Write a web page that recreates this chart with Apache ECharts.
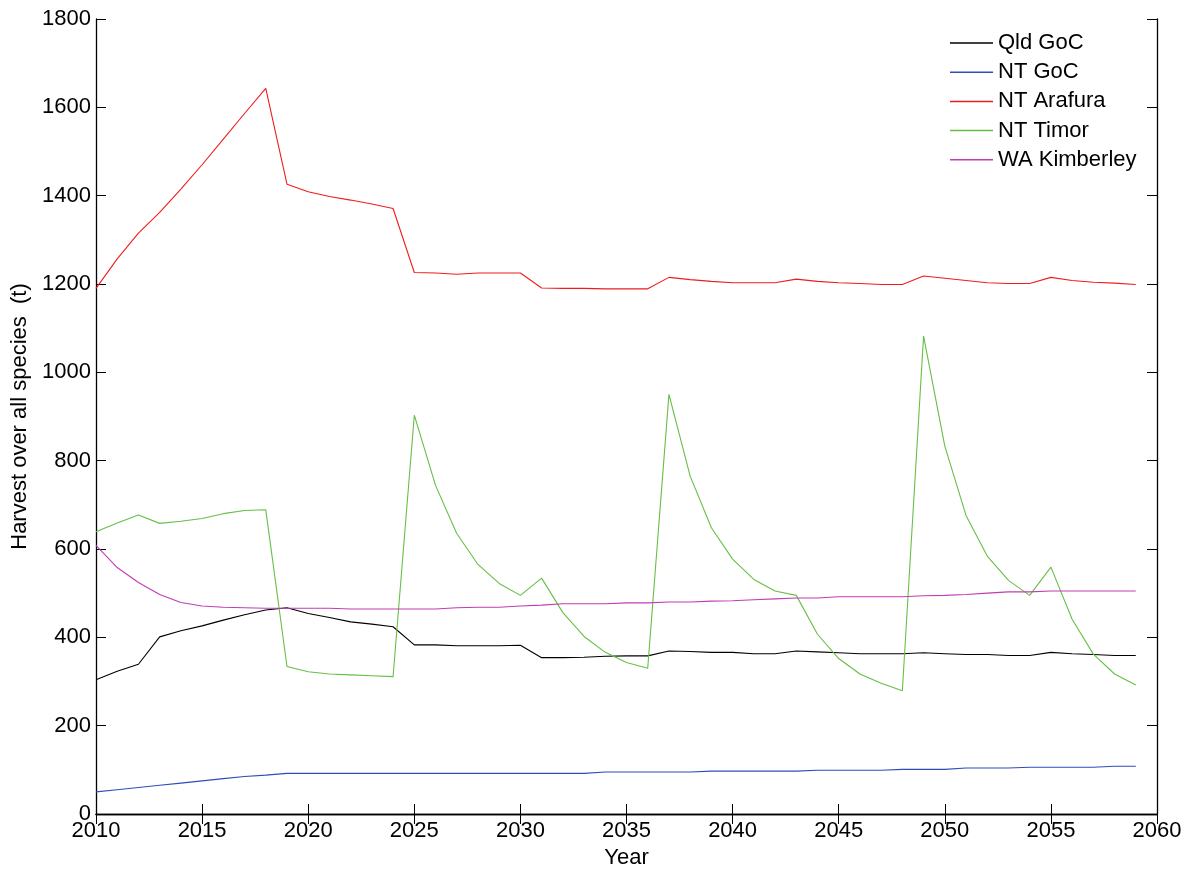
<!DOCTYPE html>
<html>
<head>
<meta charset="utf-8">
<script src="https://cdn.jsdelivr.net/npm/echarts@6/dist/echarts.min.js"></script>
<style>
	html,body{margin:0;padding:0;background:#fff;}
	#chart{width:1194px;height:870px;}
</style>
</head>
<body>
<div id="chart"></div>
<script>
	// years 2010..2059
	var years = [];
	for (var y = 2010; y <= 2059; y++) years.push(y);

	var qldGoC = [304,323,339,401,415,426,439,451,462,467,
		454,445,435,430,424,383,383,381,381,381,
		382,354,354,355,357,358,358,369,368,366,
		366,363,363,369,367,365,363,363,363,365,
		363,361,361,359,359,366,363,361,359,359];
	var ntGoC = [50,55,60,65,70,75,80,85,88,92,
		92,92,92,92,92,92,92,92,92,92,
		92,92,92,92,95,95,95,95,95,97,
		97,97,97,97,99,99,99,99,101,101,
		101,104,104,104,106,106,106,106,108,108];
	var ntArafura = [1190,1257,1315,1362,1415,1470,1528,1586,1643,1426,
		1409,1398,1390,1381,1371,1226,1225,1222,1225,1225,
		1225,1191,1190,1190,1189,1189,1189,1215,1210,1206,
		1203,1203,1203,1211,1206,1203,1201,1199,1199,1218,
		1213,1208,1203,1201,1201,1215,1208,1204,1202,1199];
	var ntTimor = [639,659,677,658,663,669,680,687,689,334,
		322,317,315,313,311,903,744,635,565,522,
		495,534,456,402,366,343,330,950,765,648,
		577,531,505,495,407,352,317,296,279,1082,
		833,676,584,529,495,559,441,362,317,292];
	var waKimberley = [608,558,524,497,479,471,468,467,466,466,
		466,466,464,464,464,464,464,467,468,468,
		471,473,476,476,476,478,478,480,480,482,
		483,485,487,489,489,492,492,492,492,494,
		495,497,500,503,503,505,505,505,505,505];

	var seriesNames = ['Qld GoC','NT GoC','NT Arafura','NT Timor','WA Kimberley'];
	var seriesData = [qldGoC, ntGoC, ntArafura, ntTimor, waKimberley];
	var seriesColors = ['#000000','#2f4db8','#f01c1c','#66bf45','#c23cb4'];

	function pairs(arr){
		return arr.map(function(v,i){ return [years[i], v]; });
	}
	function plain(v){ return String(v); }

	var font = 'Liberation Sans, Arial, sans-serif';

	var myChart = echarts.init(document.getElementById('chart'));
	var option = {
		animation:false,
		backgroundColor:'#fff',
		grid:{left:96,right:37,top:19,bottom:56,containLabel:false,outerBoundsMode:'none'},
		legend:{
			orient:'vertical',
			left:950,
			top:32,
			padding:0,
			icon:'rect',
			itemWidth:43,
			itemHeight:1.5,
			itemGap:7.2,
			textStyle:{fontFamily:font,fontSize:22,color:'#000',lineHeight:22},
			data:seriesNames
		},
		xAxis:[
			{
				type:'value',min:2010,max:2060,interval:5,
				name:'Year',nameLocation:'middle',nameGap:33,
				nameTextStyle:{fontFamily:font,fontSize:22,color:'#000'},
				axisLine:{lineStyle:{color:'#000',width:1.3}},
				axisTick:{inside:true,length:10,lineStyle:{color:'#000'}},
				axisLabel:{fontFamily:font,fontSize:22,color:'#000',margin:6,formatter:plain},
				splitLine:{show:false}
			},
			{
				type:'value',min:2010,max:2060,interval:5,position:'top',
				axisLine:{lineStyle:{color:'#000',width:1.3}},
				axisTick:{inside:true,length:10,lineStyle:{color:'#000'}},
				axisLabel:{show:false},
				splitLine:{show:false}
			}
		],
		yAxis:[
			{
				type:'value',min:0,max:1800,interval:200,
				name:'Harvest over all species  (t)',nameLocation:'middle',nameGap:65,
				nameTextStyle:{fontFamily:font,fontSize:22,color:'#000'},
				axisLine:{show:true,lineStyle:{color:'#000',width:1.3}},
				axisTick:{show:true,inside:true,length:10,lineStyle:{color:'#000'}},
				axisLabel:{fontFamily:font,fontSize:22,color:'#000',margin:5,formatter:plain},
				splitLine:{show:false}
			},
			{
				type:'value',min:0,max:1800,interval:200,position:'right',
				axisLine:{show:true,lineStyle:{color:'#000',width:1.3}},
				axisTick:{show:true,inside:true,length:10,lineStyle:{color:'#000'}},
				axisLabel:{show:false},
				splitLine:{show:false}
			}
		],
		series:seriesNames.map(function(name,i){
			return {
				name:name,
				type:'line',
				symbol:'none',
				color:seriesColors[i],
				lineStyle:{color:seriesColors[i],width:1.1},
				data:pairs(seriesData[i])
			};
		})
	};
	myChart.setOption(option);
</script>
</body>
</html>
